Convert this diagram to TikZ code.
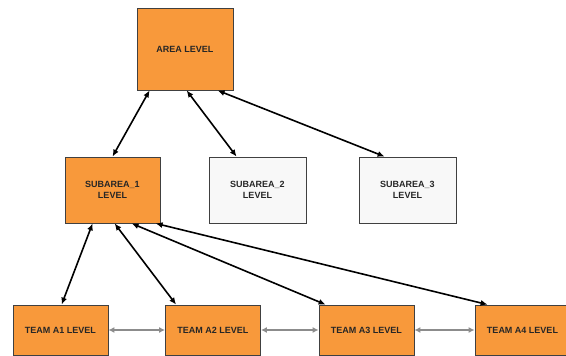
\documentclass[tikz,border=0pt]{standalone}
\usepackage{fontspec}
\setmainfont{Liberation Sans}
\usetikzlibrary{arrows.meta}
\definecolor{levelorange}{RGB}{248,153,59}
\definecolor{levelwhite}{RGB}{248,248,248}
\definecolor{linkgray}{RGB}{140,140,140}
\tikzset{
  levelbox/.style={draw=black!75, line width=0.8pt, align=center, inner sep=0pt,
    text=black!85, font=\bfseries\fontsize{9}{11}\selectfont},
  uplink/.style={{Latex[length=7pt,width=6pt]}-{Latex[length=7pt,width=6pt]}, line width=1.6pt},
  peerlink/.style={{Latex[length=6pt,width=6pt]}-{Latex[length=6pt,width=6pt]}, line width=2pt, draw=linkgray},
}
\newcommand{\LevelOrange}[3][]{\node[levelbox, fill=levelorange, #1] (#2) {#3};}
\newcommand{\LevelWhite}[3][]{\node[levelbox, fill=levelwhite, #1] (#2) {#3};}
\newcommand{\TeamBox}[3][]{\LevelOrange[#1, minimum width=95pt, minimum height=50pt]{#2}{#3}}

\begin{document}
\begin{tikzpicture}[x=1pt, y=-1pt]
\useasboundingbox (0,0) rectangle (566,356);
\LevelOrange[at={(185,49)}, minimum width=96pt, minimum height=82pt]{area}{AREA LEVEL}
	\LevelOrange[at={(112.5,190)}, minimum width=95pt, minimum height=66pt]{sub1}{SUBAREA\_1\\LEVEL}
	\LevelWhite[at={(257.5,190)}, minimum width=97pt, minimum height=66pt]{sub2}{SUBAREA\_2\\LEVEL}
	\LevelWhite[at={(407.5,190)}, minimum width=97pt, minimum height=66pt]{sub3}{SUBAREA\_3\\LEVEL}
	
	\TeamBox[at={(60.5,330)}]{teamA1}{TEAM A1 LEVEL}
	\TeamBox[at={(213,330)}]{teamA2}{TEAM A2 LEVEL}
	\TeamBox[at={(366.5,330)}]{teamA3}{TEAM A3 LEVEL}
	\TeamBox[at={(522.5,330)}]{teamA4}{TEAM A4 LEVEL}
	
	\draw[uplink] ([xshift=13pt]area.south west) -- (sub1.north);
	\draw[uplink] ([xshift=50pt]area.south west) -- ([xshift=28pt]sub2.north west);
	\draw[uplink] ([xshift=81pt]area.south west) -- ([xshift=26pt]sub3.north west);
	
	\draw[uplink] ([xshift=28pt]sub1.south west) -- ([xshift=49pt]teamA1.north west);
	\draw[uplink] ([xshift=50pt]sub1.south west) -- ([xshift=11pt]teamA2.north west);
	\draw[uplink] ([xshift=67pt]sub1.south west) -- ([xshift=7pt]teamA3.north west);
	\draw[uplink] ([xshift=91pt]sub1.south west) -- ([xshift=13pt]teamA4.north west);
	
	\draw[peerlink] (teamA1) -- (teamA2);
	\draw[peerlink] (teamA2) -- (teamA3);
	\draw[peerlink] (teamA3) -- (teamA4);

\end{tikzpicture}
\end{document}
